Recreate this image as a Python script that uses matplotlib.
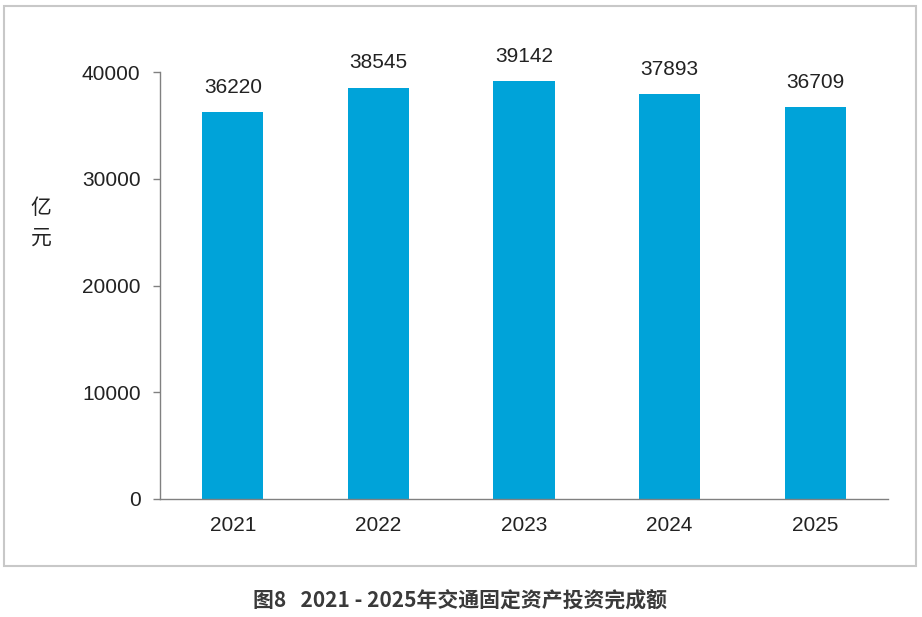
import matplotlib.pyplot as plt
from matplotlib.patches import Rectangle

years = ['2021', '2022', '2023', '2024', '2025']
invest = [36220, 38545, 39142, 37893, 36709]
yticks = [0, 10000, 20000, 30000, 40000]

plt.rcParams['font.family'] = 'Liberation Sans'
cjk = ['Noto Sans CJK SC', 'DejaVu Sans']

fig = plt.figure(figsize=(9.22, 6.17), dpi=100)
ax = fig.add_axes([160/922, 1-499/617, (888-160)/922, (499-72)/617])

x = range(len(years))
bars = ax.bar(x, invest, width=0.42, color='#00A3D9')
for b, v in zip(bars, invest):
    ax.annotate(str(v), (b.get_x() + b.get_width()/2, v), xytext=(0, 11),
                textcoords='offset points', ha='center', va='bottom',
                fontsize=15, color='#222222', annotation_clip=False)

ax.set_xlim(-0.5, len(years) - 0.5)
ax.set_ylim(0, 40000)
ax.set_xticks(list(x))
ax.set_xticklabels(years)
ax.set_yticks(yticks)
ax.set_yticklabels([str(t) for t in yticks])
ax.tick_params(axis='x', length=0, pad=12, labelsize=15, labelcolor='#222222')
ax.tick_params(axis='y', length=5, width=1, color='#808080', pad=9,
               labelsize=15, labelcolor='#222222')
for s in ['top', 'right']:
    ax.spines[s].set_visible(False)
for s in ['left', 'bottom']:
    ax.spines[s].set_color('#808080')
    ax.spines[s].set_linewidth(1)

# y label, stacked characters
fig.text(41/922, 1-208/617, '亿', ha='center', va='center', fontsize=15,
         family=cjk, color='#222222')
fig.text(41/922, 1-238/617, '元', ha='center', va='center', fontsize=15,
         family=cjk, color='#222222')

# frame around chart
fig.patches.append(Rectangle((4/922, 1-566/617), 912/922, 560/617,
                             transform=fig.transFigure, fill=False,
                             edgecolor='#c8c8c8', linewidth=1.5))

fig.text(460/922, 1-601/617, '图8   2021 - 2025年交通固定资产投资完成额',
         ha='center', va='center', fontsize=15, fontweight='bold',
         family=cjk, color='#3a3a3a')

fig.savefig('out.png', dpi=100)
